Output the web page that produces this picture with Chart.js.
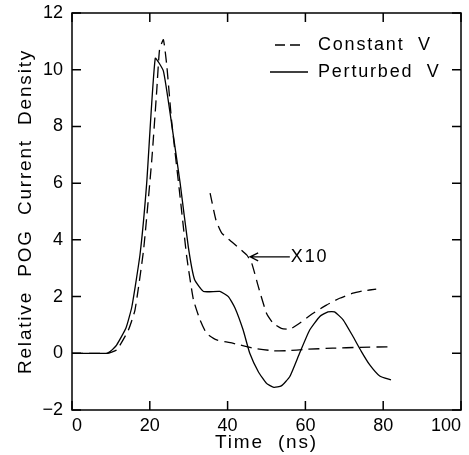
<!DOCTYPE html>
<html>
<head>
<meta charset="utf-8">
<script src="https://cdn.jsdelivr.net/npm/chart.js@4"></script>
<style>
  html, body { margin: 0; padding: 0; background: #fff; }
  #wrap { width: 469px; height: 455px; }
</style>
</head>
<body>
<div id="wrap"><canvas id="chart" width="469" height="455"></canvas></div>
<script>
// time axis (ns) and relative POG current density
const perturbedT = [0, 5, 9, 9.8, 11.5, 13.9, 15.4, 17.5, 19.2, 21.4, 23.5, 25.6, 27.8, 29.9, 31.5, 33.8, 38, 40.2, 41.9, 44, 45.7, 47.9, 50, 51.9, 53.8, 56, 58.5, 61.1, 63.7, 65.8, 67.5, 69.7, 72.2, 74.4, 76.5, 79.1, 82];
const perturbedJ = [0, 0, 0, 0.06, 0.3, 0.9, 1.65, 3.5, 6, 10.4, 9.95, 8.1, 6, 3.75, 2.6, 2.18, 2.18, 2.0, 1.6, 0.82, 0, -0.65, -1.06, -1.2, -1.15, -0.82, 0, 0.82, 1.3, 1.46, 1.46, 1.18, 0.6, 0.06, -0.4, -0.8, -0.94];

const constantT = [0, 5, 9, 11.5, 14.5, 16.2, 18.4, 20.5, 21.8, 22.5, 23.5, 24.4, 25.6, 27.8, 29.5, 31.2, 32.9, 34.6, 37.2, 41.5, 46.6, 51.7, 55, 60.3, 67, 74, 81.6];
const constantJ = [0, 0, 0, 0.12, 0.82, 1.53, 3.65, 6.8, 9.3, 10.7, 11.06, 10.1, 8.2, 5.5, 3.4, 1.9, 1.18, 0.7, 0.47, 0.35, 0.18, 0.09, 0.09, 0.14, 0.18, 0.21, 0.23];

// constant V tail, magnified x10
const constantX10T = [35.5, 37, 38.5, 41.5, 44.9, 46.2, 47.9, 50, 51.7, 53.8, 56, 58.5, 62, 65.4, 68.8, 72.2, 74.8, 78.2];
const constantX10J = [5.65, 4.7, 4.24, 3.88, 3.47, 3.18, 2.35, 1.41, 1.06, 0.88, 0.85, 1.06, 1.41, 1.7, 1.94, 2.12, 2.2, 2.26];

const xTicks = [0, 20, 40, 60, 80, 100];
const yTicks = [-2, 0, 2, 4, 6, 8, 10, 12];

const FONT = '"Liberation Sans", Arial, sans-serif';
const dash = [11, 6];

function pts(xs, ys) {
    return xs.map((x, i) => ({ x: x, y: ys[i] }));
}

// axis titles get the wide letter spacing of the original, tick labels don't
// (titles are drawn with the z=0 layer, tick labels with z=1 after the datasets)
const spacing = {
    id: 'spacing',
    beforeDraw(chart) { chart.ctx.letterSpacing = '1.8px'; },
    beforeDatasetsDraw(chart) { chart.ctx.letterSpacing = '0px'; }
};

// frame, inward ticks, legend and the x10 note
const decorations = {
    id: 'decorations',
    afterDatasetsDraw(chart) {
        const { ctx, chartArea: a, scales } = chart;
        const xs = scales.x, ys = scales.y;
        ctx.save();
        ctx.strokeStyle = '#000';
        ctx.lineWidth = 1.5;
        ctx.setLineDash([]);
        ctx.strokeRect(a.left, a.top, a.right - a.left, a.bottom - a.top);

        const tl = 9;
        ctx.beginPath();
        xTicks.forEach(v => {
            const px = xs.getPixelForValue(v);
            ctx.moveTo(px, a.bottom); ctx.lineTo(px, a.bottom - tl);
            ctx.moveTo(px, a.top); ctx.lineTo(px, a.top + tl);
        });
        yTicks.forEach(v => {
            const py = ys.getPixelForValue(v);
            ctx.moveTo(a.left, py); ctx.lineTo(a.left + tl, py);
            ctx.moveTo(a.right, py); ctx.lineTo(a.right - tl, py);
        });
        ctx.stroke();

        // legend
        ctx.font = '18px ' + FONT;
        ctx.fillStyle = '#000';
        ctx.textBaseline = 'middle';
        ctx.textAlign = 'left';
        ctx.letterSpacing = '1.8px';
        ctx.lineWidth = 1.3;
        const lx = a.right - 191, ty = a.top + 32;
        ctx.setLineDash([10, 5]);
        ctx.beginPath(); ctx.moveTo(lx + 5, ty); ctx.lineTo(lx + 30, ty); ctx.stroke();
        ctx.setLineDash([]);
        ctx.beginPath(); ctx.moveTo(lx, ty + 27); ctx.lineTo(lx + 38, ty + 27); ctx.stroke();
        ctx.fillText('Constant  V', lx + 48, ty);
        ctx.fillText('Perturbed  V', lx + 48, ty + 27);

        // arrow to the x10 curve
        const tipX = xs.getPixelForValue(45.8), tailX = xs.getPixelForValue(56);
        const ay = ys.getPixelForValue(3.4);
        ctx.beginPath();
        ctx.moveTo(tailX, ay); ctx.lineTo(tipX, ay);
        ctx.moveTo(tipX + 8, ay - 4); ctx.lineTo(tipX, ay); ctx.lineTo(tipX + 8, ay + 4);
        ctx.stroke();
        ctx.fillText('X10', tailX + 1, ay);
        ctx.restore();
    }
};

const lineStyle = { borderColor: '#000', borderWidth: 1.3, pointRadius: 0, tension: 0.15, fill: false };

new Chart(document.getElementById('chart'), {
    type: 'line',
    data: {
        datasets: [
            Object.assign({ label: 'Constant V', data: pts(constantT, constantJ), borderDash: dash }, lineStyle),
            Object.assign({ label: 'Perturbed V', data: pts(perturbedT, perturbedJ) }, lineStyle),
            Object.assign({ label: 'Constant V x10', data: pts(constantX10T, constantX10J), borderDash: dash }, lineStyle)
        ]
    },
    options: {
        responsive: false,
        animation: false,
        layout: { padding: { left: 0, right: 8, top: 13, bottom: 0 } },
        plugins: {
            legend: { display: false },
            tooltip: { enabled: false }
        },
        scales: {
            x: {
                type: 'linear',
                min: 0,
                max: 100,
                afterFit(scale) {
                    scale.height = 45;
                    scale.paddingLeft = 0;
                    scale.paddingRight = 0;
                },
                afterBuildTicks(scale) { scale.ticks = xTicks.map(v => ({ value: v })); },
                grid: { display: false, drawTicks: false },
                border: { display: false },
                ticks: { color: '#000', padding: 5, z: 1, align: 'inner', font: { family: FONT, size: 18 } },
                title: {
                    display: true,
                    text: 'Time  (ns)',
                    color: '#000',
                    padding: { top: 0, bottom: 1 },
                    font: { family: FONT, size: 19 }
                }
            },
            y: {
                min: -2,
                max: 12,
                afterFit(scale) {
                    scale.width = 72;
                    scale.paddingTop = 0;
                    scale.paddingBottom = 0;
                },
                afterBuildTicks(scale) { scale.ticks = yTicks.map(v => ({ value: v })); },
                grid: { display: false, drawTicks: false },
                border: { display: false },
                ticks: {
                    color: '#000',
                    padding: 9,
                    z: 1,
                    font: { family: FONT, size: 18 },
                    callback: v => String(v).replace('-', '\u2212')
                },
                title: {
                    display: true,
                    text: 'Relative  POG  Current  Density',
                    color: '#000',
                    padding: { top: 14, bottom: 0 },
                    font: { family: FONT, size: 19 }
                }
            }
        }
    },
    plugins: [spacing, decorations]
});
</script>
</body>
</html>
